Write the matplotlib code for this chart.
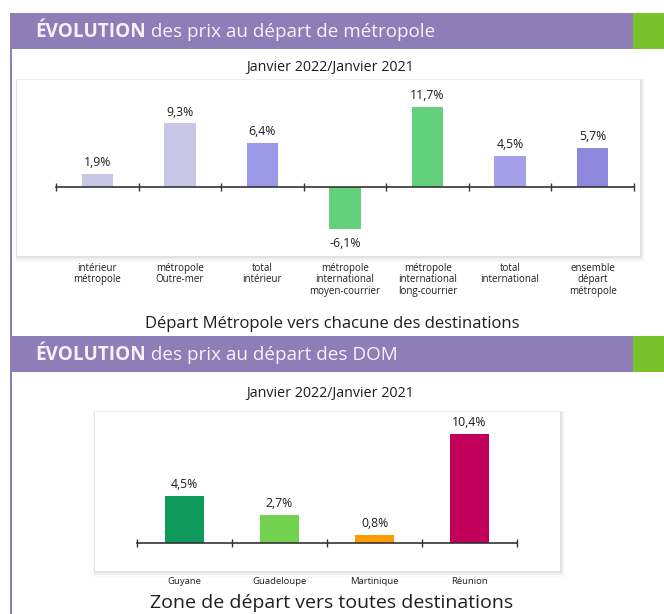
import numpy as np
import matplotlib
matplotlib.use("Agg")
import matplotlib.pyplot as plt
from matplotlib.patches import Rectangle
from matplotlib.transforms import blended_transform_factory

plt.rcParams['font.family'] = ['Open Sans', 'DejaVu Sans']

# Données - départ métropole
categories_metro = ["intérieur\nmétropole", "métropole\nOutre-mer", "total\nintérieur",
                    "métropole\ninternational\nmoyen-courrier", "métropole\ninternational\nlong-courrier",
                    "total\ninternational", "ensemble\ndépart\nmétropole"]
valeurs_metro = [1.9, 9.3, 6.4, -6.1, 11.7, 4.5, 5.7]
couleurs_metro = ["#c9c7e8", "#c9c7e8", "#9c98e8", "#63d17b", "#63d17b", "#a4a0ea", "#8e89de"]

# Données - départ DOM
categories_dom = ["Guyane", "Guadeloupe", "Martinique", "Réunion"]
valeurs_dom = [4.5, 2.7, 0.8, 10.4]
couleurs_dom = ["#0f9a5c", "#72d24e", "#ff9a00", "#c2005c"]

W, H = 664, 614
fig = plt.figure(figsize=(W / 100, H / 100), dpi=100)
fig.patch.set_facecolor("white")

# fond en coordonnées pixels
bg = fig.add_axes([0, 0, 1, 1])
bg.set_xlim(0, W)
bg.set_ylim(H, 0)
bg.axis("off")

violet = "#8f7db8"
vert = "#79c22a"
encre = "#1e1e1e"


def carte(x0, y0, x1, y1):
    # ombre floue approximative
    for d, a in [(5, 0.04), (3, 0.06), (1.5, 0.10)]:
        bg.add_patch(Rectangle((x0 - d * 0.4, y0 - d * 0.2), x1 - x0 + d * 1.4, y1 - y0 + d * 1.4,
                               facecolor="#6a6a7a", alpha=a, lw=0))
    bg.add_patch(Rectangle((x0, y0), x1 - x0, y1 - y0, facecolor="white", lw=0))


def entete(y0, y1, texte):
    bg.add_patch(Rectangle((10, y0), 623, y1 - y0, facecolor=violet, lw=0))
    bg.add_patch(Rectangle((633, y0), 40, y1 - y0, facecolor=vert, lw=0))
    t = bg.text(35, (y0 + y1) / 2 + 1, "ÉVOLUTION", color="#f6f2fb", fontsize=13.6,
                fontweight="bold", va="center", ha="left")
    bg.annotate(" " + texte, xycoords=t, xy=(1, 0.5), va="center", ha="left",
                color="#f6f2fb", fontsize=13.6)


# bordure gauche violette
bg.add_patch(Rectangle((10, 13), 2.2, H - 13, facecolor=violet, lw=0))

entete(13, 49, "des prix au départ de métropole")
entete(336, 372, "des prix au départ des DOM")

carte(17, 80, 640, 256)
carte(95, 412, 560, 571)

bg.text(330, 68, "Janvier 2022/Janvier 2021", ha="center", va="center", fontsize=10.3, color=encre)
bg.text(330, 394, "Janvier 2022/Janvier 2021", ha="center", va="center", fontsize=10.3, color=encre)
bg.text(332, 324, "Départ Métropole vers chacune des destinations", ha="center", va="center",
        fontsize=12, color=encre)
bg.text(332, 603, "Zone de départ vers toutes destinations", ha="center", va="center",
        fontsize=14, color=encre)


def graphe(px_x0, px_x1, px_y0, px_y1, px_zero, px_par_pct, valeurs, couleurs, cats, larg, y_cat, fs_cat):
    ax = fig.add_axes([px_x0 / W, 1 - px_y1 / H, (px_x1 - px_x0) / W, (px_y1 - px_y0) / H])
    ax.patch.set_alpha(0)
    n = len(valeurs)
    x = np.arange(n)
    ax.bar(x, valeurs, width=larg, color=couleurs, zorder=2)
    ax.set_xlim(-0.5, n - 0.5)
    ax.set_ylim(-(px_y1 - px_zero) / px_par_pct, (px_zero - px_y0) / px_par_pct)
    for s in ["top", "right", "left"]:
        ax.spines[s].set_visible(False)
    ax.spines["bottom"].set_position(("data", 0))
    ax.spines["bottom"].set_color("#333333")
    ax.spines["bottom"].set_linewidth(1.2)
    ax.spines["bottom"].set_zorder(3)
    ax.set_yticks([])
    ax.set_xticks(np.arange(-0.5, n, 1))
    ax.set_xticklabels([])
    ax.tick_params(axis="x", direction="inout", length=6, width=1, color="#333333")
    for xi, v in zip(x, valeurs):
        txt = f"{v:.1f}%".replace(".", ",")
        if v >= 0:
            ax.annotate(txt, (xi, v), xytext=(0, 3.5), textcoords="offset points",
                        ha="center", va="bottom", fontsize=8.8, color=encre)
        else:
            ax.annotate(txt, (xi, v), xytext=(0, -6), textcoords="offset points",
                        ha="center", va="top", fontsize=8.8, color=encre)
    tr = blended_transform_factory(ax.transData, bg.transData)
    for xi, c in zip(x, cats):
        ax.text(xi, y_cat, c, transform=tr, ha="center", va="top", fontsize=fs_cat,
                color=encre, linespacing=1.05)
    return ax


graphe(56, 634, 95, 250, 187, 6.84, valeurs_metro, couleurs_metro, categories_metro, 0.38, 263, 7)
graphe(137, 517, 415, 565, 543, 10.5, valeurs_dom, couleurs_dom, categories_dom, 0.41, 577, 6.8)

fig.savefig("out.png", dpi=100)
